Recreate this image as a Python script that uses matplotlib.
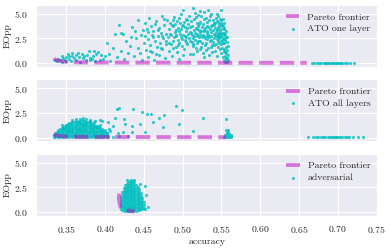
import matplotlib
import numpy as np

matplotlib.use("Agg")
import matplotlib.pyplot as plt  # noqa: E402
import seaborn as sns  # noqa: E402

sns.set_style("darkgrid")
plt.rcParams["font.family"] = ["cmr10", "DejaVu Serif"]
plt.rcParams["mathtext.fontset"] = "cm"
plt.rcParams["axes.formatter.use_mathtext"] = True
plt.rcParams["font.size"] = 7

# ---- ATO one layer: (accuracy, EOpp) ----
one_layer_pts = [
    # low-left group
    (0.336, 0.35), (0.338, 0.2), (0.340, 0.45), (0.342, 0.3), (0.344, 0.15), (0.346, 0.55),
    (0.348, 0.35), (0.350, 0.2), (0.352, 0.92), (0.353, 0.75), (0.354, 0.4), (0.356, 0.25),
    (0.358, 0.7), (0.360, 0.5), (0.362, 0.3), (0.363, 0.84), (0.365, 1.0), (0.366, 0.6),
    (0.368, 0.15), (0.370, 0.95), (0.371, 0.5), (0.373, 0.7), (0.375, 0.3), (0.377, 0.85),
    (0.379, 1.27), (0.380, 0.3), (0.381, 0.55), (0.383, 0.4), (0.385, 0.7), (0.387, 0.2),
    (0.389, 0.95), (0.391, 1.09), (0.393, 0.3), (0.395, 0.84), (0.397, 0.45), (0.400, 0.67),
    (0.344, 0.7), (0.350, 0.6), (0.357, 1.05), (0.386, 1.2),
    # rising part
    (0.402, 2.08), (0.405, 0.9), (0.407, 0.25), (0.410, 1.55), (0.413, 2.95), (0.416, 0.6),
    (0.418, 3.9), (0.420, 3.1), (0.421, 1.2), (0.423, 3.0), (0.425, 0.4), (0.427, 2.2),
    (0.429, 1.0), (0.432, 1.7), (0.434, 2.6), (0.435, 3.65), (0.437, 0.7), (0.439, 3.3),
    (0.440, 2.5), (0.442, 1.5), (0.443, 4.36), (0.445, 1.0), (0.446, 2.9), (0.448, 0.35),
    (0.449, 3.4),
    (0.450, 2.0), (0.451, 4.1), (0.452, 2.8), (0.453, 1.3), (0.454, 3.5), (0.455, 0.6),
    (0.456, 2.4), (0.457, 4.6), (0.458, 1.8), (0.459, 3.8), (0.460, 2.9), (0.461, 1.1),
    (0.462, 3.3), (0.463, 0.3), (0.464, 2.2), (0.465, 4.0), (0.466, 4.3), (0.467, 1.6),
    (0.468, 2.7), (0.469, 3.6), (0.470, 0.8), (0.471, 2.0), (0.472, 3.1), (0.473, 4.8),
    (0.474, 1.4), (0.475, 2.5), (0.476, 3.9), (0.477, 0.5), (0.478, 3.0), (0.479, 1.9),
    (0.480, 4.4), (0.455, 3.2), (0.462, 2.6), (0.468, 3.4), (0.474, 2.8), (0.478, 2.2),
    (0.458, 1.2), (0.466, 0.9), (0.472, 1.5), (0.476, 4.5),
    (0.481, 2.6), (0.482, 3.5), (0.483, 1.2), (0.484, 4.1), (0.485, 2.9), (0.486, 0.7),
    (0.487, 3.8), (0.488, 2.2), (0.489, 4.7), (0.490, 3.2), (0.491, 1.6), (0.492, 2.7),
    (0.493, 4.3), (0.494, 3.6), (0.495, 0.4), (0.496, 2.0), (0.497, 3.0), (0.498, 5.0),
    (0.499, 2.4), (0.500, 5.4), (0.501, 3.9), (0.502, 1.4), (0.503, 2.8), (0.504, 4.5),
    (0.505, 3.3), (0.506, 1.9), (0.507, 4.0), (0.508, 2.5), (0.509, 0.9), (0.510, 3.7),
    (0.482, 2.0), (0.484, 3.0), (0.486, 3.9), (0.488, 1.5), (0.490, 4.0), (0.492, 3.4),
    (0.494, 2.3), (0.496, 4.6), (0.498, 3.5), (0.500, 2.9), (0.502, 4.2), (0.504, 2.1),
    (0.506, 3.6), (0.508, 4.8), (0.510, 2.2), (0.485, 1.9), (0.489, 2.6), (0.493, 1.1),
    (0.497, 4.1), (0.501, 0.8), (0.505, 2.6), (0.509, 3.2), (0.487, 4.4), (0.499, 1.7),
    (0.503, 3.7), (0.491, 2.9), (0.495, 3.3), (0.499, 3.8), (0.503, 2.3), (0.507, 3.0),
    (0.494, 1.8), (0.506, 4.4), (0.498, 2.6),
    (0.511, 4.3), (0.512, 2.9), (0.513, 1.7), (0.514, 5.6), (0.515, 3.4), (0.516, 2.3),
    (0.517, 4.7), (0.518, 3.0), (0.519, 1.2), (0.520, 3.8), (0.521, 2.6), (0.522, 4.2),
    (0.523, 5.3), (0.524, 3.3), (0.525, 2.0), (0.526, 4.0), (0.527, 2.8), (0.528, 0.6),
    (0.529, 3.6), (0.530, 4.6), (0.531, 2.4), (0.532, 3.1), (0.533, 1.5), (0.534, 4.4),
    (0.535, 3.5), (0.536, 2.7), (0.537, 5.0), (0.538, 3.9), (0.539, 2.1), (0.540, 4.1),
    (0.511, 3.1), (0.513, 2.5), (0.515, 4.5), (0.517, 3.6), (0.519, 2.8), (0.521, 3.4),
    (0.523, 2.2), (0.525, 3.7), (0.527, 4.5), (0.529, 2.5), (0.531, 3.8), (0.533, 2.9),
    (0.535, 4.8), (0.537, 2.3), (0.539, 3.4), (0.512, 3.8), (0.514, 1.9), (0.516, 3.1),
    (0.518, 4.1), (0.520, 2.2), (0.522, 3.2), (0.524, 4.8), (0.526, 2.9), (0.528, 3.3),
    (0.530, 2.0), (0.532, 4.2), (0.534, 2.6), (0.536, 3.8), (0.538, 1.8), (0.540, 3.0),
    (0.514, 0.9), (0.518, 2.0), (0.522, 1.4), (0.526, 1.0), (0.530, 1.3), (0.534, 0.8),
    (0.538, 1.1), (0.516, 5.1), (0.528, 5.2), (0.533, 5.4),
    (0.512, 2.1), (0.515, 2.7), (0.517, 1.5), (0.519, 3.5), (0.521, 4.0), (0.523, 2.9),
    (0.525, 2.6), (0.527, 3.4), (0.529, 1.8), (0.531, 3.3), (0.533, 3.7), (0.535, 2.2),
    (0.537, 3.2), (0.539, 4.4), (0.524, 1.6), (0.532, 2.7), (0.536, 1.6), (0.520, 4.9),
    (0.541, 2.5), (0.542, 3.6), (0.543, 1.9), (0.544, 4.3), (0.545, 3.0), (0.546, 2.2),
    (0.547, 4.0), (0.548, 3.3), (0.549, 5.35), (0.550, 2.7), (0.551, 1.5), (0.552, 3.8),
    (0.553, 2.0), (0.554, 3.1), (0.555, 1.1), (0.556, 2.6), (0.557, 0.5), (0.558, 1.7),
    (0.541, 3.9), (0.542, 2.9), (0.543, 4.6), (0.544, 2.4), (0.545, 3.7), (0.546, 1.6),
    (0.547, 3.1), (0.548, 2.6), (0.549, 4.1), (0.550, 3.5), (0.551, 2.3), (0.552, 4.5),
    (0.553, 2.9), (0.554, 1.4), (0.555, 2.3), (0.556, 3.3), (0.557, 1.3), (0.558, 0.8),
    (0.542, 1.2), (0.544, 0.7), (0.546, 3.5), (0.548, 1.4), (0.550, 1.0), (0.552, 0.6),
    (0.553, 1.2), (0.554, 0.3), (0.555, 0.7), (0.556, 0.2), (0.557, 2.1), (0.558, 0.3),
    (0.556, 1.0), (0.555, 0.1), (0.557, 0.15), (0.543, 3.2), (0.545, 2.6), (0.547, 2.0),
    (0.549, 3.0), (0.551, 3.9), (0.553, 3.6), (0.554, 2.4), (0.546, 4.8), (0.550, 4.4),
    (0.544, 5.0), (0.552, 2.0), (0.548, 3.8),
    (0.541, 1.8), (0.543, 2.7), (0.545, 4.2), (0.547, 2.5), (0.549, 1.9), (0.551, 3.1),
    (0.553, 4.1), (0.555, 3.0), (0.557, 2.6), (0.542, 4.1), (0.546, 2.9), (0.550, 2.2),
    (0.554, 3.5), (0.556, 1.6), (0.544, 3.4), (0.548, 4.5), (0.552, 2.5), (0.556, 0.5),
    # flat tail at high accuracy
    (0.667, 0.03), (0.670, 0.05), (0.673, 0.02), (0.676, 0.04), (0.679, 0.03), (0.682, 0.05),
    (0.684, 0.02), (0.686, 0.04), (0.688, 0.03), (0.690, 0.05), (0.692, 0.02), (0.694, 0.04),
    (0.696, 0.03), (0.698, 0.05), (0.700, 0.02), (0.702, 0.04), (0.704, 0.03), (0.706, 0.05),
    (0.709, 0.02), (0.712, 0.04), (0.716, 0.03), (0.721, 0.04),
]
one_layer_front_acc = [0.334, 0.336, 0.340, 0.345, 0.350, 0.360, 0.380, 0.420, 0.480, 0.555, 0.660]
one_layer_front_eopp = [0.48, 0.33, 0.25, 0.18, 0.12, 0.08, 0.06, 0.05, 0.04, 0.03, 0.02]

# ---- ATO all layers ----
all_layers_pts = [
    (0.334, 0.1), (0.334, 0.3), (0.336, 0.05), (0.336, 0.25), (0.336, 0.45),
    (0.338, 0.15), (0.338, 0.4), (0.338, 0.6), (0.340, 0.1), (0.340, 0.3), (0.340, 0.55),
    (0.340, 0.75), (0.342, 0.05), (0.342, 0.25), (0.342, 0.5), (0.342, 0.7), (0.342, 0.9),
    (0.344, 0.15), (0.344, 0.35), (0.344, 0.6), (0.344, 0.8), (0.344, 1.0),
    (0.346, 0.1), (0.346, 0.3), (0.346, 0.5), (0.346, 0.75), (0.346, 0.95), (0.346, 1.1),
    (0.348, 0.2), (0.348, 0.4), (0.348, 0.65), (0.348, 0.85), (0.348, 1.05), (0.348, 1.2),
    (0.350, 0.05), (0.350, 0.3), (0.350, 0.5), (0.350, 0.7), (0.350, 0.95), (0.350, 1.15),
    (0.350, 1.3), (0.352, 0.15), (0.352, 0.4), (0.352, 0.6), (0.352, 0.8), (0.352, 1.0),
    (0.352, 1.25), (0.352, 1.4), (0.354, 0.1), (0.354, 0.3), (0.354, 0.55), (0.354, 0.75),
    (0.354, 0.95), (0.354, 1.2), (0.354, 1.45), (0.356, 0.2), (0.356, 0.45), (0.356, 0.65),
    (0.356, 0.9), (0.356, 1.1), (0.356, 1.35), (0.356, 1.5), (0.358, 0.05), (0.358, 0.3),
    (0.358, 0.55), (0.358, 0.8), (0.358, 1.0), (0.358, 1.25), (0.358, 1.55),
    (0.360, 0.15), (0.360, 0.4), (0.360, 0.6), (0.360, 0.85), (0.360, 1.05), (0.360, 1.3),
    (0.360, 1.6), (0.362, 0.1), (0.362, 0.35), (0.362, 0.5), (0.362, 0.75), (0.362, 0.95),
    (0.362, 1.2), (0.362, 1.45), (0.362, 1.65), (0.364, 0.2), (0.364, 0.45), (0.364, 0.7),
    (0.364, 0.9), (0.364, 1.15), (0.364, 1.4), (0.364, 1.6), (0.366, 0.05), (0.366, 0.3),
    (0.366, 0.55), (0.366, 0.8), (0.366, 1.0), (0.366, 1.25), (0.366, 1.5), (0.366, 1.7),
    (0.368, 0.15), (0.368, 0.4), (0.368, 0.65), (0.368, 0.85), (0.368, 1.1), (0.368, 1.35),
    (0.368, 1.55), (0.370, 0.1), (0.370, 0.35), (0.370, 0.6), (0.370, 0.8), (0.370, 1.05),
    (0.370, 1.3), (0.370, 1.5), (0.370, 1.75), (0.372, 0.2), (0.372, 0.45), (0.372, 0.7),
    (0.372, 0.95), (0.372, 1.2), (0.372, 1.4), (0.372, 1.65), (0.374, 0.05), (0.374, 0.3),
    (0.374, 0.55), (0.374, 0.75), (0.374, 1.0), (0.374, 1.25), (0.374, 1.45), (0.374, 1.7),
    (0.376, 0.15), (0.376, 0.4), (0.376, 0.65), (0.376, 0.9), (0.376, 1.15), (0.376, 1.35),
    (0.376, 1.6), (0.378, 0.1), (0.378, 0.35), (0.378, 0.55), (0.378, 0.8), (0.378, 1.05),
    (0.378, 1.3), (0.378, 1.55), (0.380, 0.2), (0.380, 0.45), (0.380, 0.7), (0.380, 0.95),
    (0.380, 1.2), (0.380, 1.45), (0.380, 1.65), (0.382, 0.05), (0.382, 0.3), (0.382, 0.55),
    (0.382, 0.8), (0.382, 1.0), (0.382, 1.25), (0.382, 1.5), (0.384, 0.15), (0.384, 0.4),
    (0.384, 0.65), (0.384, 0.9), (0.384, 1.1), (0.384, 1.35), (0.386, 0.1), (0.386, 0.35),
    (0.386, 0.6), (0.386, 0.8), (0.386, 1.05), (0.386, 1.3), (0.386, 1.55), (0.388, 0.2),
    (0.388, 0.45), (0.388, 0.7), (0.388, 0.95), (0.388, 1.2), (0.390, 0.05), (0.390, 0.3),
    (0.390, 0.55), (0.390, 0.8), (0.390, 1.0), (0.390, 1.15), (0.392, 0.15), (0.392, 0.4),
    (0.392, 0.65), (0.392, 0.9), (0.392, 1.05), (0.394, 0.1), (0.394, 0.3), (0.394, 0.55),
    (0.394, 0.75), (0.394, 0.95), (0.396, 0.2), (0.396, 0.45), (0.396, 0.65), (0.396, 0.85),
    (0.398, 0.05), (0.398, 0.3), (0.398, 0.5), (0.398, 0.7), (0.400, 0.15), (0.400, 0.35),
    (0.400, 0.55), (0.402, 0.1), (0.402, 0.3), (0.402, 0.45), (0.404, 0.05), (0.404, 0.2),
    (0.345, 1.3), (0.357, 1.75), (0.362, 1.85), (0.368, 1.9), (0.375, 1.85), (0.381, 1.8),
    (0.387, 1.7), (0.372, 2.0),
    # scattered middle points
    (0.393, 1.8), (0.396, 1.7), (0.404, 1.6), (0.413, 2.0), (0.418, 2.98), (0.416, 2.85),
    (0.425, 1.9), (0.436, 2.87), (0.448, 2.57), (0.454, 2.4), (0.459, 2.4), (0.476, 2.33),
    (0.469, 1.96), (0.462, 1.6), (0.475, 1.1), (0.491, 3.24), (0.499, 2.8), (0.496, 1.35),
    (0.514, 0.71), (0.526, 1.96), (0.394, 1.3), (0.400, 0.75), (0.405, 0.9), (0.410, 1.2),
    (0.426, 1.35), (0.435, 1.2), (0.435, 0.55), (0.445, 1.35), (0.452, 0.55), (0.430, 0.2),
    (0.418, 0.15), (0.395, 0.27), (0.402, 0.45), (0.406, 0.71), (0.410, 0.1), (0.417, 0.45),
    (0.423, 0.6),
    # cluster near 0.556
    (0.556, 1.86), (0.556, 0.75), (0.558, 0.8), (0.557, 0.5), (0.559, 0.55), (0.555, 0.3),
    (0.557, 0.25), (0.559, 0.3), (0.561, 0.2), (0.556, 0.1), (0.558, 0.05), (0.560, 0.1),
    (0.562, 0.05), (0.563, 0.15), (0.554, 0.1), (0.557, 0.4), (0.560, 0.4), (0.562, 0.3),
    # flat tail
    (0.662, 0.03), (0.668, 0.04), (0.672, 0.02), (0.675, 0.05), (0.678, 0.03), (0.681, 0.04),
    (0.684, 0.02), (0.687, 0.05), (0.690, 0.03), (0.692, 0.04), (0.694, 0.02), (0.696, 0.05),
    (0.698, 0.03), (0.700, 0.04), (0.703, 0.02), (0.706, 0.05), (0.709, 0.03), (0.712, 0.04),
    (0.715, 0.02), (0.720, 0.04), (0.726, 0.03), (0.733, 0.04),
]
all_layers_front_acc = [0.334, 0.336, 0.340, 0.345, 0.350, 0.360, 0.400, 0.480, 0.556]
all_layers_front_eopp = [0.35, 0.25, 0.18, 0.12, 0.08, 0.06, 0.05, 0.04, 0.03]

# ---- adversarial ----
adversarial_pts = [
    (0.420, 0.3), (0.420, 0.6), (0.420, 0.9), (0.420, 1.2), (0.420, 1.5),
    (0.422, 0.2), (0.422, 0.5), (0.422, 0.8), (0.422, 1.1), (0.422, 1.4), (0.422, 1.7),
    (0.422, 2.0), (0.424, 0.1), (0.424, 0.35), (0.424, 0.6), (0.424, 0.85), (0.424, 1.1),
    (0.424, 1.35), (0.424, 1.6), (0.424, 1.85), (0.424, 2.1), (0.424, 2.4),
    (0.426, 0.15), (0.426, 0.4), (0.426, 0.65), (0.426, 0.9), (0.426, 1.15), (0.426, 1.4),
    (0.426, 1.65), (0.426, 1.9), (0.426, 2.15), (0.426, 2.4), (0.426, 2.7),
    (0.428, 0.1), (0.428, 0.3), (0.428, 0.55), (0.428, 0.8), (0.428, 1.05), (0.428, 1.3),
    (0.428, 1.55), (0.428, 1.8), (0.428, 2.05), (0.428, 2.3), (0.428, 2.55), (0.428, 2.8),
    (0.430, 0.05), (0.430, 0.25), (0.430, 0.5), (0.430, 0.75), (0.430, 1.0), (0.430, 1.25),
    (0.430, 1.5), (0.430, 1.75), (0.430, 2.0), (0.430, 2.25), (0.430, 2.5), (0.430, 2.75),
    (0.430, 3.0), (0.432, 0.1), (0.432, 0.35), (0.432, 0.6), (0.432, 0.85), (0.432, 1.1),
    (0.432, 1.35), (0.432, 1.6), (0.432, 1.85), (0.432, 2.1), (0.432, 2.35), (0.432, 2.6),
    (0.432, 2.85), (0.432, 3.1), (0.434, 0.05), (0.434, 0.3), (0.434, 0.55), (0.434, 0.8),
    (0.434, 1.05), (0.434, 1.3), (0.434, 1.55), (0.434, 1.8), (0.434, 2.05), (0.434, 2.3),
    (0.434, 2.55), (0.434, 2.8), (0.434, 3.05), (0.436, 0.1), (0.436, 0.35), (0.436, 0.6),
    (0.436, 0.85), (0.436, 1.1), (0.436, 1.35), (0.436, 1.6), (0.436, 1.85), (0.436, 2.1),
    (0.436, 2.35), (0.436, 2.6), (0.436, 2.9), (0.436, 3.15), (0.438, 0.15), (0.438, 0.4),
    (0.438, 0.65), (0.438, 0.9), (0.438, 1.15), (0.438, 1.4), (0.438, 1.65), (0.438, 1.9),
    (0.438, 2.15), (0.438, 2.4), (0.438, 2.7), (0.438, 3.0), (0.440, 0.1), (0.440, 0.35),
    (0.440, 0.6), (0.440, 0.85), (0.440, 1.1), (0.440, 1.35), (0.440, 1.6), (0.440, 1.85),
    (0.440, 2.1), (0.440, 2.4), (0.440, 2.75), (0.442, 0.2), (0.442, 0.45), (0.442, 0.7),
    (0.442, 0.95), (0.442, 1.2), (0.442, 1.45), (0.442, 1.7), (0.442, 1.95), (0.442, 2.25),
    (0.442, 2.5), (0.444, 0.15), (0.444, 0.4), (0.444, 0.65), (0.444, 0.9), (0.444, 1.15),
    (0.444, 1.4), (0.444, 1.7), (0.444, 2.0), (0.444, 2.35), (0.446, 0.3), (0.446, 0.55),
    (0.446, 0.8), (0.446, 1.05), (0.446, 1.3), (0.446, 1.6), (0.446, 1.9), (0.448, 0.25),
    (0.448, 0.5), (0.448, 0.8), (0.448, 1.1), (0.448, 1.4), (0.450, 0.35), (0.450, 0.7),
    (0.450, 1.0), (0.452, 2.6), (0.453, 1.7), (0.456, 0.5), (0.451, 0.25), (0.445, 2.8),
    (0.428, 3.2), (0.433, 3.25), (0.438, 3.25),
]
adversarial_front_acc = [0.418, 0.418, 0.419, 0.420, 0.424, 0.428, 0.433, 0.438]
adversarial_front_eopp = [1.85, 1.3, 0.8, 0.5, 0.25, 0.15, 0.1, 0.07]

panels = [
    (one_layer_pts, one_layer_front_acc, one_layer_front_eopp, "ATO one layer"),
    (all_layers_pts, all_layers_front_acc, all_layers_front_eopp, "ATO all layers"),
    (adversarial_pts, adversarial_front_acc, adversarial_front_eopp, "adversarial"),
]

fig, axes = plt.subplots(3, 1, figsize=(3.91, 2.49), dpi=100, sharex=True, sharey=True)
fig.subplots_adjust(left=0.092, right=0.967, top=0.98, bottom=0.133, hspace=0.2)

for ax, (pts, f_acc, f_eopp, name) in zip(axes, panels):
    acc, eopp = np.array(pts).T
    (front,) = ax.plot(f_acc, f_eopp, color="m", alpha=0.5, lw=2.8, ls="--", zorder=3,
                       label="Pareto frontier")
    sc = ax.scatter(acc, eopp, color="c", s=5, alpha=0.8, linewidths=0, zorder=2, label=name)
    ax.set_ylabel("EOpp", labelpad=2)
    ax.legend(handles=[front, sc], loc="upper right", frameon=False, handlelength=1.4,
              borderaxespad=0.4, labelspacing=0.3)
    ax.tick_params(pad=2)

axes[0].set_xlim(0.311, 0.752)
axes[0].set_ylim(-0.4, 5.9)
axes[0].set_yticks([0.0, 2.5, 5.0])
axes[-1].set_xlabel("accuracy", labelpad=2)

fig.savefig("out.png", dpi=100)
